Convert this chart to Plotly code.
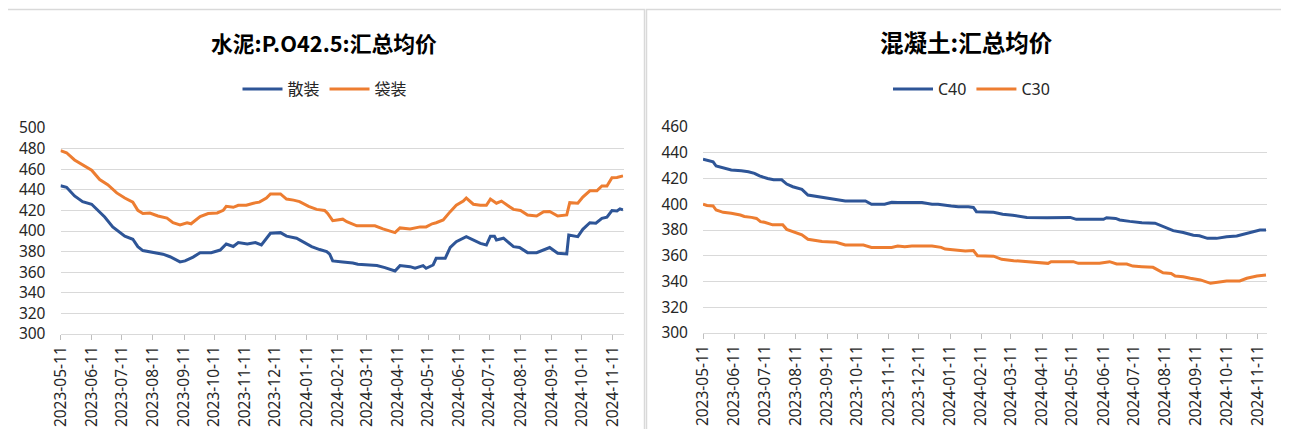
import plotly.graph_objects as go

# ---------------- data: cement P.O42.5 ----------------
cement_bag_dates = ["2023-05-11","2023-05-17","2023-05-25","2023-06-02","2023-06-11","2023-06-19","2023-06-27","2023-07-06","2023-07-14","2023-07-22","2023-07-27","2023-08-01","2023-08-08","2023-08-16","2023-08-25","2023-08-31","2023-09-07","2023-09-14","2023-09-18","2023-09-27","2023-10-05","2023-10-14","2023-10-20","2023-10-23","2023-10-30","2023-11-04","2023-11-12","2023-11-19","2023-11-25","2023-12-02","2023-12-06","2023-12-16","2023-12-22","2023-12-29","2024-01-04","2024-01-13","2024-01-21","2024-01-29","2024-02-01","2024-02-06","2024-02-16","2024-02-20","2024-03-01","2024-03-19","2024-03-27","2024-04-08","2024-04-13","2024-04-23","2024-05-03","2024-05-09","2024-05-15","2024-05-19","2024-05-26","2024-06-02","2024-06-08","2024-06-15","2024-06-18","2024-06-25","2024-07-02","2024-07-08","2024-07-12","2024-07-18","2024-07-23","2024-07-31","2024-08-04","2024-08-11","2024-08-18","2024-08-27","2024-09-03","2024-09-09","2024-09-17","2024-09-26","2024-09-29","2024-10-07","2024-10-12","2024-10-19","2024-10-26","2024-10-31","2024-11-05","2024-11-10","2024-11-15","2024-11-21"]
cement_bag_vals = [478,476,469,464,459,450,445,437,432,428,420,417,417.5,414.6,412.5,408,406,408,407,414,417,417.5,420,424,423,425,425,427,428,432,436,436,431,430,428.5,424,421,420,417,410,411.5,409,405,405,402,398.4,403,402,404,404,407,408,410.7,418.8,425,429,432,426,425,425,431,427,429,423.6,421,420,415.6,414.6,418.8,419,414.6,415.6,427.5,427,433,439,439,443.7,443.7,451.8,452,453.5]

cement_bulk_dates = ["2023-05-11","2023-05-17","2023-05-25","2023-06-02","2023-06-11","2023-06-19","2023-06-24","2023-07-02","2023-07-09","2023-07-14","2023-07-22","2023-07-27","2023-08-01","2023-08-15","2023-08-21","2023-08-28","2023-09-07","2023-09-12","2023-09-20","2023-09-27","2023-10-08","2023-10-17","2023-10-23","2023-10-30","2023-11-04","2023-11-13","2023-11-21","2023-11-27","2023-12-06","2023-12-16","2023-12-22","2024-01-01","2024-01-07","2024-01-16","2024-01-24","2024-01-31","2024-02-03","2024-02-06","2024-02-16","2024-02-26","2024-03-02","2024-03-21","2024-03-29","2024-04-08","2024-04-13","2024-04-23","2024-04-28","2024-05-06","2024-05-09","2024-05-16","2024-05-19","2024-05-28","2024-06-02","2024-06-08","2024-06-18","2024-06-25","2024-07-02","2024-07-08","2024-07-12","2024-07-16","2024-07-18","2024-07-25","2024-07-31","2024-08-04","2024-08-10","2024-08-18","2024-08-27","2024-09-03","2024-09-09","2024-09-17","2024-09-26","2024-09-28","2024-10-07","2024-10-12","2024-10-19","2024-10-25","2024-10-31","2024-11-05","2024-11-10","2024-11-15","2024-11-18","2024-11-21"]
cement_bulk_vals = [444,442.4,434,428.5,426,418.8,413.6,404,398.4,395,392,384.8,381,379,377.5,375,370,371,374.7,379,379,381.5,387.4,385,388.7,387.4,388.7,386.4,397.8,398.4,395,393,389.6,384.8,382,380,377.5,371,370,369,367.7,366.4,364.5,361.2,366.4,365.4,363.8,366.4,363.8,367,373.5,373.5,384,389.6,394.5,391.3,388,386.4,395,395,391.3,393,388,384.8,384,379,379,382,384,378.4,377.7,396,394.5,401.6,408,407.5,412.3,413.5,419.8,419.5,421.5,420.5]

# ---------------- data: concrete ----------------
c40_dates = ["2023-05-11","2023-05-15","2023-05-21","2023-05-24","2023-06-02","2023-06-08","2023-06-18","2023-06-25","2023-07-01","2023-07-06","2023-07-14","2023-07-20","2023-07-28","2023-08-02","2023-08-08","2023-08-17","2023-08-23","2023-09-02","2023-09-09","2023-09-15","2023-09-29","2023-10-19","2023-10-25","2023-11-07","2023-11-14","2023-11-20","2023-12-14","2023-12-24","2023-12-30","2024-01-12","2024-01-19","2024-01-29","2024-02-03","2024-02-06","2024-02-23","2024-03-03","2024-03-13","2024-03-27","2024-04-16","2024-05-09","2024-05-15","2024-06-11","2024-06-14","2024-06-23","2024-06-27","2024-07-07","2024-07-19","2024-08-01","2024-08-09","2024-08-19","2024-08-29","2024-09-08","2024-09-14","2024-09-22","2024-10-01","2024-10-11","2024-10-21","2024-10-29","2024-11-06","2024-11-13","2024-11-19"]
c40_vals = [435,434,433,429.7,428,426.6,426,425.3,424,422,420,419,419,415.7,413.6,411.6,407.2,405.9,404.6,404,402.5,402.5,400,400,401.5,401.3,401.3,400,400,398.6,398,398,397.5,394.2,393.8,392.2,391.5,389.8,389.5,389.8,388.3,388.3,389.5,389,387.8,386.7,385.7,385.3,382.6,379.5,378,376,375.5,373.5,373.5,374.8,375.4,377,378.7,380,380]

c30_dates = ["2023-05-11","2023-05-15","2023-05-21","2023-05-24","2023-05-31","2023-06-08","2023-06-17","2023-06-21","2023-06-28","2023-07-03","2023-07-07","2023-07-11","2023-07-19","2023-07-29","2023-08-02","2023-08-10","2023-08-17","2023-08-23","2023-08-30","2023-09-06","2023-09-20","2023-09-29","2023-10-17","2023-10-25","2023-11-14","2023-11-20","2023-11-27","2023-12-04","2023-12-24","2024-01-02","2024-01-06","2024-01-16","2024-01-26","2024-02-03","2024-02-07","2024-02-23","2024-03-02","2024-03-14","2024-03-27","2024-04-17","2024-04-20","2024-05-12","2024-05-17","2024-06-07","2024-06-17","2024-06-24","2024-07-04","2024-07-10","2024-07-19","2024-07-30","2024-08-09","2024-08-17","2024-08-21","2024-08-29","2024-09-05","2024-09-15","2024-09-25","2024-10-01","2024-10-11","2024-10-24","2024-10-31","2024-11-10","2024-11-19"]
c30_vals = [400,399,398.7,395.5,393.7,393,391.6,390.5,389.8,389,386.5,386,384,384,380.5,378,376.2,372.8,371.7,371,370.4,368.3,368.3,366.5,366.5,367.5,367,367.5,367.5,366.5,365.2,364.5,363.7,364,360,359.7,357.2,356.2,355.4,354.1,355.4,355.4,354.1,354.1,355.4,353.6,353.6,352,351.5,351,346.8,346.3,344.3,343.7,342.5,341.2,338.6,339.4,340.4,340.4,342.5,344.3,345]

month_ticks = ["2023-05-11","2023-06-11","2023-07-11","2023-08-11","2023-09-11","2023-10-11","2023-11-11","2023-12-11","2024-01-11","2024-02-11","2024-03-11","2024-04-11","2024-05-11","2024-06-11","2024-07-11","2024-08-11","2024-09-11","2024-10-11","2024-11-11"]

titles = ["水泥:P.O42.5:汇总均价", "混凝土:汇总均价"]

BLUE = "#2E5597"
ORANGE = "#ED7D31"
GRID = "#D9D9D9"
TXT = "#262626"
W, H = 1289, 437
OFF = 8  # page body margin compensation
FW, FH = W - 2 * OFF, H - 2 * OFF
BASE_FONT = "Noto Sans, Noto Sans CJK SC, sans-serif"


def fx(px):
    return (px - OFF) / FW


def fy(py):
    return (FH - (py - OFF)) / FH


fig = go.Figure()
fig.add_trace(go.Scatter(x=cement_bulk_dates, y=cement_bulk_vals, name="散装", mode="lines",
                         line=dict(color=BLUE, width=3), xaxis="x", yaxis="y", legend="legend"))
fig.add_trace(go.Scatter(x=cement_bag_dates, y=cement_bag_vals, name="袋装", mode="lines",
                         line=dict(color=ORANGE, width=3), xaxis="x", yaxis="y", legend="legend"))
fig.add_trace(go.Scatter(x=c40_dates, y=c40_vals, name="C40", mode="lines",
                         line=dict(color=BLUE, width=3), xaxis="x2", yaxis="y2", legend="legend2"))
fig.add_trace(go.Scatter(x=c30_dates, y=c30_vals, name="C30", mode="lines",
                         line=dict(color=ORANGE, width=3), xaxis="x2", yaxis="y2", legend="legend2"))


def xax(domain, rng, anchor):
    return dict(domain=domain, range=rng, type="date", anchor=anchor, automargin=False,
                tickmode="array", tickvals=month_ticks, ticktext=month_ticks,
                tickangle=-90, ticks="outside", ticklen=5, tickcolor="#BFBFBF",
                showline=True, linecolor=GRID, linewidth=1, showgrid=False,
                zeroline=False, tickfont=dict(size=15.5, color=TXT, family=BASE_FONT))


def yax(domain, rng, anchor):
    return dict(domain=domain, range=rng, dtick=20, anchor=anchor, automargin=False,
                showgrid=True, gridcolor=GRID, gridwidth=1, zeroline=False,
                showline=False, ticks="", ticklabelstandoff=14,
                tickfont=dict(size=15.5, color=TXT, family=BASE_FONT))


fig.update_layout(
    width=FW, height=FH, autosize=False,
    margin=dict(l=0, r=0, t=0, b=0, pad=0, autoexpand=False),
    paper_bgcolor="white", plot_bgcolor="white",
    font=dict(family=BASE_FONT, color=TXT),
    xaxis=xax([fx(60.5), fx(623.5)], ["2023-05-11", "2024-11-21 12:00"], "y"),
    yaxis=yax([fy(334), fy(128)], [300, 500], "x"),
    xaxis2=xax([fx(703), fx(1267)], ["2023-05-11", "2024-11-20"], "y2"),
    yaxis2=yax([fy(333), fy(127)], [300, 460], "x2"),
    legend=dict(orientation="h", x=fx(325), y=fy(89), xanchor="center", yanchor="middle",
                font=dict(size=16, color=TXT, family="Noto Sans CJK SC, Noto Sans"),
                bgcolor="rgba(0,0,0,0)", itemwidth=40),
    legend2=dict(orientation="h", x=fx(971.5), y=fy(89), xanchor="center", yanchor="middle",
                 font=dict(size=16, color=TXT, family="Noto Sans, Noto Sans CJK SC"),
                 bgcolor="rgba(0,0,0,0)", itemwidth=40),
    shapes=[
        dict(type="rect", xref="paper", yref="paper", x0=fx(4), x1=fx(644.5), y0=-0.05, y1=fy(9.5),
             line=dict(color=GRID, width=1.5), layer="below"),
        dict(type="rect", xref="paper", yref="paper", x0=fx(646.5), x1=fx(1286), y0=-0.05, y1=fy(9.5),
             line=dict(color=GRID, width=1.5), layer="below"),
    ],
    annotations=[
        dict(text="<b>" + titles[0] + "</b>", x=fx(324), y=fy(42), xref="paper", yref="paper",
             showarrow=False, xanchor="center", yanchor="middle",
             font=dict(size=21.8, color="#000000", family="Noto Sans CJK SC")),
        dict(text="<b>" + titles[1] + "</b>", x=fx(966), y=fy(42), xref="paper", yref="paper",
             showarrow=False, xanchor="center", yanchor="middle",
             font=dict(size=23.5, color="#000000", family="Noto Sans CJK SC")),
    ],
)

fig.write_html("out.html")
